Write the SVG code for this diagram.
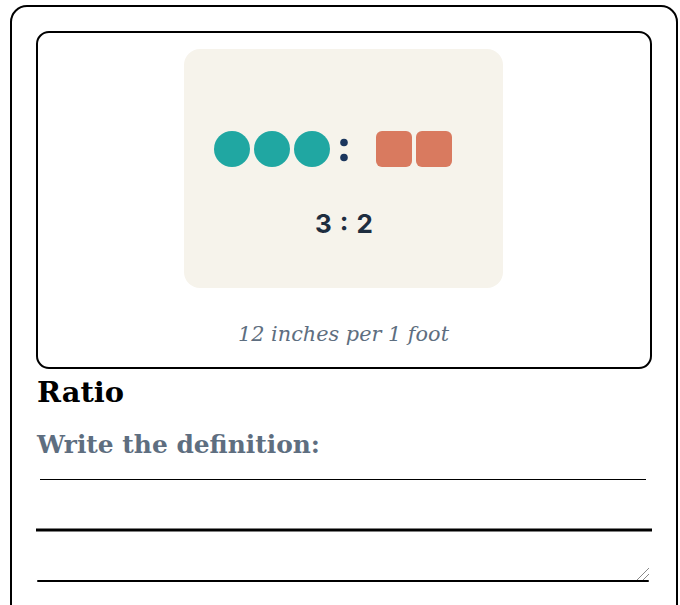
<svg xmlns="http://www.w3.org/2000/svg" width="680" height="605" viewBox="0 0 680 605">
<style>
.frame{fill:#fff;stroke:#000;stroke-width:2}
.circ{fill:#20a7a2}
.sq{fill:#d97a5f}
.dot{fill:#1b365d}
.ratio{font-family:Inter,"Liberation Sans",sans-serif;font-weight:700;font-size:26px;fill:#1e2d3f}
.cap{font-family:"DejaVu Serif","Liberation Serif",serif;font-style:italic;font-size:20.5px;fill:#5e6e80}
.title{font-family:"DejaVu Serif","Liberation Serif",serif;font-weight:700;font-size:27px;fill:#000}
.sub{font-family:"DejaVu Serif","Liberation Serif",serif;font-weight:700;font-size:25px;fill:#5e6e80}
</style>
<rect x="11" y="6" width="666" height="614" rx="16" class="frame"/>
<g id="card">
<rect x="37" y="32" width="614" height="336" rx="12" class="frame"/>
<rect x="184" y="49" width="319" height="239" rx="16" fill="#f6f3eb"/>
<circle cx="232" cy="149" r="18" class="circ"/>
<circle cx="272" cy="149" r="18" class="circ"/>
<circle cx="312" cy="149" r="18" class="circ"/>
<circle cx="344" cy="142.5" r="3.8" class="dot"/>
<circle cx="344" cy="157.5" r="3.8" class="dot"/>
<rect x="376" y="131" width="36" height="36" rx="6" class="sq"/>
<rect x="416" y="131" width="36" height="36" rx="6" class="sq"/>
<text x="315" y="233" class="ratio" textLength="58" lengthAdjust="spacing">3 : 2</text>
<text x="238" y="341" class="cap" textLength="211" lengthAdjust="spacingAndGlyphs">12 inches per 1 foot</text>
</g>
<g id="definition">
<text x="37" y="402" class="title" textLength="87" lengthAdjust="spacingAndGlyphs">Ratio</text>
<text x="37" y="453" class="sub" textLength="283" lengthAdjust="spacingAndGlyphs">Write the definition:</text>
<line x1="40" y1="479.5" x2="646" y2="479.5" stroke="#000" stroke-width="1"/>
<line x1="36" y1="530" x2="652" y2="530" stroke="#000" stroke-width="3"/>
<line x1="38" y1="581" x2="648" y2="581" stroke="#000" stroke-width="2" stroke-linecap="round"/>
<path d="M637 580 L649 568 M643 580 L649 574" stroke="#888" stroke-width="1"/>
</g>
</svg>
